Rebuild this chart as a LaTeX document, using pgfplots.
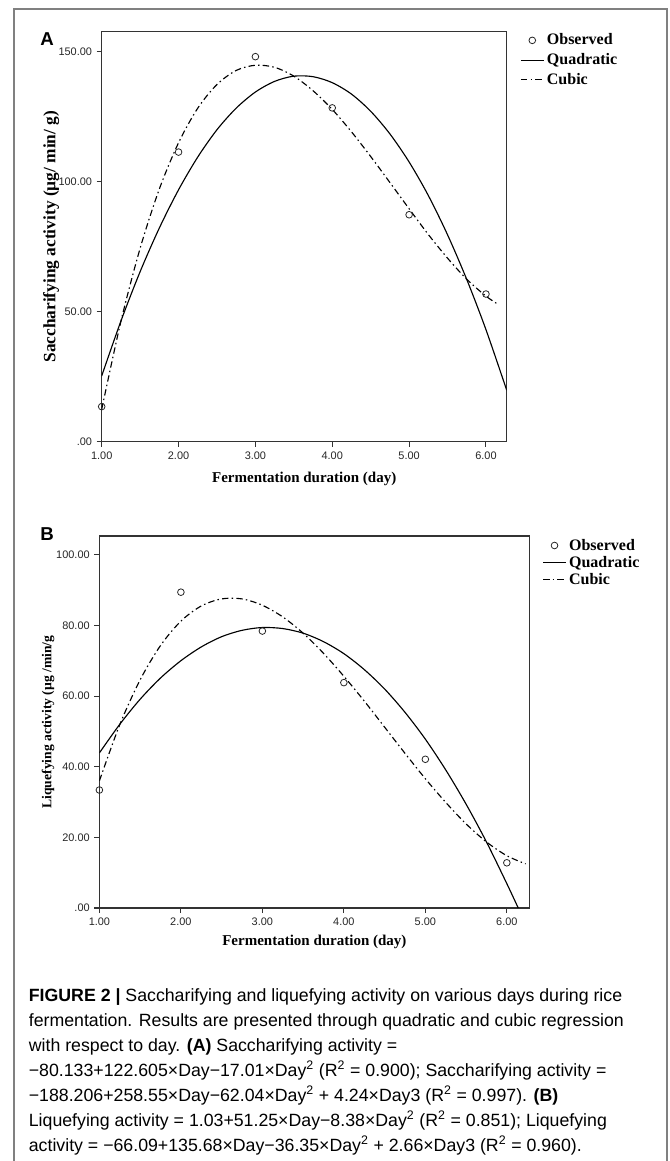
\documentclass[border=0pt]{standalone}
\usepackage{fontspec}
\setmainfont{Liberation Sans}
\newfontfamily\tnr{Liberation Serif}
\usepackage{pgfplots}
\pgfplotsset{compat=1.18}

\def\pxu{0.75pt}

\pgfplotsset{
  spss/.style={
    scale only axis,
    axis line style={black!80, line width=0.8pt},
    every tick/.style={black!80, line width=0.8pt},
    xtick pos=left, ytick pos=left,
    tick align=outside,
    major tick length=3.75pt,
    ticklabel style={font=\fontsize{8.2}{9}\selectfont, text=black!85},
    /pgf/number format/assume math mode=true,
    label style={font=\tnr\bfseries\fontsize{11.25}{13}\selectfont},
    legend style={draw=none, fill=none, inner sep=0pt,
      font=\tnr\bfseries\fontsize{12}{12.5}\selectfont,
      cells={anchor=west}, row sep=-1pt},
    xtick={1,2,3,4,5,6},
    xticklabels={1.00,2.00,3.00,4.00,5.00,6.00},
    xmin=1,
  },
  obs/.style={only marks, mark=o, mark size=2.5pt,
    mark options={line width=0.6pt, black!85}},
  quad/.style={no marks, smooth, black, line width=0.85pt},
  cub/.style={no marks, smooth, black, line width=0.85pt,
    dash pattern=on 4.8pt off 2.4pt on 1.1pt off 2.4pt},
}

\begin{document}
\begin{tikzpicture}
\path[use as bounding box] (0,0) rectangle (669*\pxu,-1161*\pxu);
\draw[black!50, line width=1.1pt]
  (14*\pxu,-1170*\pxu) -- (14*\pxu,-9*\pxu) -- (667*\pxu,-9*\pxu) -- (667*\pxu,-1170*\pxu);

% ---------- panel A
\node[anchor=base west, inner sep=0, font=\bfseries\fontsize{14}{14}\selectfont]
  at (40*\pxu,-45*\pxu) {A};
\begin{axis}[spss,
  at={(101.7*\pxu,-31.7*\pxu)}, anchor=north west,
  width=405*\pxu, height=410*\pxu,
  xmax=6.27, ymin=0, ymax=157.7,
  ytick={0,50,100,150},
  yticklabels={.00,50.00,100.00,150.00},
  xlabel={Fermentation duration (day)},
  xlabel style={at={(axis description cs:0.5,-0.091)}, anchor=center},
  ylabel={Saccharifying activity (µg/ min/ g)},
  ylabel style={at={(axis description cs:-0.125,0.5)}, anchor=center,
    font=\tnr\bfseries\fontsize{13}{14}\selectfont},
  legend style={at={(axis description cs:1.033,1.002)}, anchor=north west,
    row sep=1pt},
]
\addplot[obs] coordinates {(1,13.5) (2,111.4) (3,148.1) (4,128.4) (5,87.3) (6,56.8)};
\addlegendentry{Observed}
\addplot[quad] coordinates {
  (1,25.3) (1.25,46.4) (1.5,65.4) (1.75,82.2) (2,96.9) (2.25,109.5)
  (2.5,120.0) (2.75,128.3) (3,134.5) (3.25,138.6) (3.5,140.6) (3.75,140.4)
  (4,138.1) (4.25,133.7) (4.5,127.1) (4.75,118.4) (5,107.6) (5.25,94.7)
  (5.5,79.6) (5.75,62.4) (6,43.1) (6.27,19.8)};
\addlegendentry{Quadratic}
\addplot[cub] coordinates {
  (1,12.4) (1.25,46.3) (1.5,74.4) (1.75,97.2) (2,115.0) (2.25,128.3)
  (2.5,137.4) (2.75,142.8) (3,144.8) (3.25,144.0) (3.5,140.6) (3.75,135.0)
  (4,127.8) (4.25,119.2) (4.5,109.7) (4.75,99.7) (5,89.6) (5.25,79.7)
  (5.5,70.6) (5.75,62.5) (6,56.0) (6.17,52.6)};
\addlegendentry{Cubic}
\end{axis}

% ---------- panel B
\node[anchor=base west, inner sep=0, font=\bfseries\fontsize{14}{14}\selectfont]
  at (40*\pxu,-540*\pxu) {B};
\begin{axis}[spss,
  at={(99.4*\pxu,-536*\pxu)}, anchor=north west,
  width=430*\pxu, height=372*\pxu,
  xmax=6.277, ymin=0, ymax=105.3,
  ytick={0,20,40,60,80,100},
  yticklabels={.00,20.00,40.00,60.00,80.00,100.00},
  xlabel={Fermentation duration (day)},
  xlabel style={at={(axis description cs:0.5,-0.0914)}, anchor=center},
  ylabel={Liquefying activity (µg /min/g},
  ylabel style={at={(axis description cs:-0.1195,0.5)}, anchor=center,
    font=\tnr\bfseries\fontsize{10.2}{12}\selectfont},
  legend style={at={(axis description cs:1.03,1.0)}, anchor=north west},
]
\addplot[obs] coordinates {(1,33.4) (2,89.4) (3,78.4) (4,63.8) (5,42.1) (6,12.8)};
\addlegendentry{Observed}
\addplot[quad] coordinates {
  (1,43.9) (1.25,52.0) (1.5,59.1) (1.75,65.1) (2,70.0) (2.25,73.9)
  (2.5,76.8) (2.75,78.6) (3,79.4) (3.25,79.1) (3.5,77.8) (3.75,75.4)
  (4,72.0) (4.25,67.5) (4.5,62.0) (4.75,55.4) (5,47.8) (5.25,39.1)
  (5.5,29.4) (5.75,18.7) (6,6.9) (6.14,0)};
\addlegendentry{Quadratic}
\addplot[cub] coordinates {
  (1,36.0) (1.25,51.9) (1.5,64.6) (1.75,74.3) (2,81.2) (2.25,85.5)
  (2.5,87.5) (2.75,87.5) (3,85.7) (3.25,82.4) (3.5,77.8) (3.75,72.1)
  (4,65.6) (4.25,58.6) (4.5,51.2) (4.75,43.8) (5,36.6) (5.25,29.9)
  (5.5,23.8) (5.75,18.7) (6,14.8) (6.23,12.5)};
\addlegendentry{Cubic}
\end{axis}

% ---------- caption
\node[anchor=north west, inner sep=0, align=left,
  font=\fontsize{13.3}{18.75}\selectfont]
  at (28.6*\pxu,-988*\pxu) {%
\textbf{FIGURE 2 |} Saccharifying and liquefying activity on various days during rice\\
fermentation. Results are presented through quadratic and cubic regression\\
with respect to day. \textbf{(A)} Saccharifying activity =\\
−80.133+122.605×Day−17.01×Day\textsuperscript{2} (R\textsuperscript{2} = 0.900); Saccharifying activity =\\
−188.206+258.55×Day−62.04×Day\textsuperscript{2} + 4.24×Day3 (R\textsuperscript{2} = 0.997). \textbf{(B)}\\
Liquefying activity = 1.03+51.25×Day−8.38×Day\textsuperscript{2} (R\textsuperscript{2} = 0.851); Liquefying\\
activity = −66.09+135.68×Day−36.35×Day\textsuperscript{2} + 2.66×Day3 (R\textsuperscript{2} = 0.960).};
\end{tikzpicture}
\end{document}
